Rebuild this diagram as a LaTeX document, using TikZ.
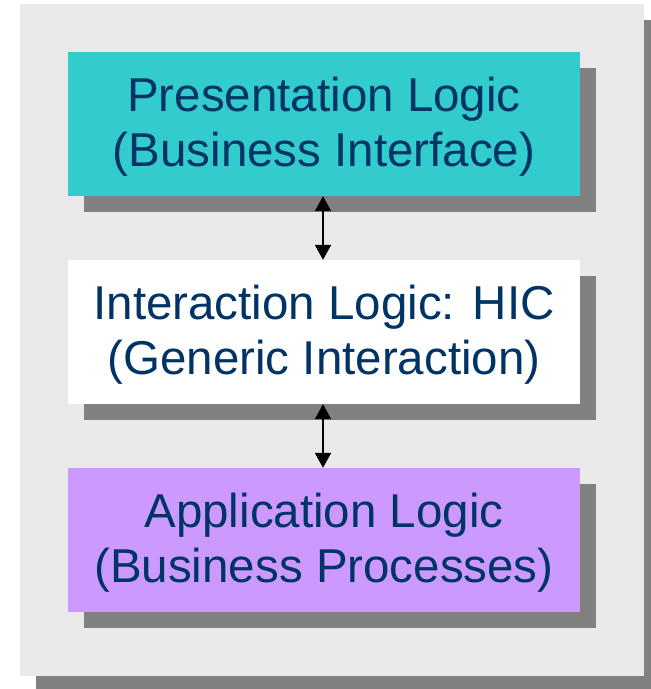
\documentclass[tikz,border=0pt]{standalone}
\usepackage{fontspec}
\setmainfont{Liberation Sans}
\usetikzlibrary{arrows.meta}
\definecolor{panelgray}{HTML}{E9E9E9}
\definecolor{shadowgray}{HTML}{808080}
\definecolor{tealfill}{HTML}{33CCCC}
\definecolor{lilacfill}{HTML}{CC99FF}
\definecolor{navytext}{HTML}{003366}
% two centred lines, drawn a little below the box centre
\newcommand{\layertext}[2]{\raisebox{-3.5pt}[\height][\depth]{\begin{tabular}{@{}c@{}}#1\\#2\end{tabular}}}
\tikzset{
  layer/.style={minimum width=512pt, minimum height=144pt, inner sep=0pt,
    text=navytext, font=\fontsize{47.5}{55}\selectfont},
  link/.style={line width=2pt, {Triangle[length=15pt,width=16pt]}-{Triangle[length=15pt,width=16pt]}}
}
\begin{document}
\begin{tikzpicture}[x=1pt,y=-1pt]
  \useasboundingbox[fill=white] (0,0) rectangle (651,689);
  % panel with its drop shadow
  \fill[shadowgray] (36,20) rectangle (660,692);
  \fill[panelgray] (20,4) rectangle (644,676);
  % layer shadows
  \fill[shadowgray] (84,68) rectangle (596,212);
  \fill[shadowgray] (84,276) rectangle (596,420);
  \fill[shadowgray] (84,484) rectangle (596,628);
  % layers
  \node[layer, fill=tealfill] (pres) at (324,124) {\layertext{Presentation Logic}{(Business Interface)}};
  \node[layer, fill=white] (inter) at (324,332) {\layertext{Interaction Logic: HIC}{(Generic Interaction)}};
  \node[layer, fill=lilacfill] (app) at (324,540) {\layertext{Application Logic}{(Business Processes)}};
  % connectors
  \draw[link] ([xshift=-1pt]pres.south) -- ([xshift=-1pt]inter.north);
  \draw[link] ([xshift=-1pt]inter.south) -- ([xshift=-1pt]app.north);
\end{tikzpicture}
\end{document}
